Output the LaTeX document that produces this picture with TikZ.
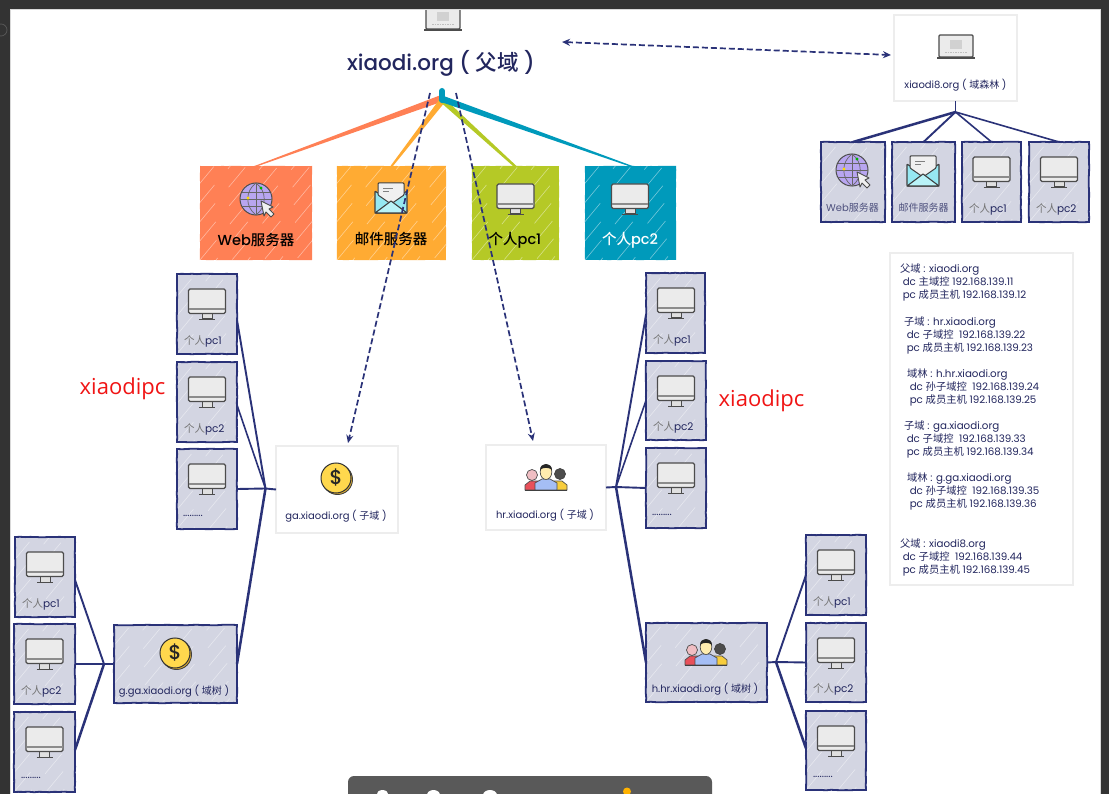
\documentclass[tikz,border=0pt]{standalone}
\usepackage{fontspec}
\setmainfont{Poppins}
\newfontfamily\cjkf{Noto Sans CJK SC}
\newfontfamily\medf{Poppins Medium}
\newfontfamily\cjkm{Noto Sans CJK SC Medium}
\newfontfamily\redf{Open Sans}
\usetikzlibrary{calc,arrows.meta,decorations.pathmorphing}
\definecolor{navy}{HTML}{2A3278}
\definecolor{boxfill}{HTML}{D3D5E2}
\definecolor{ink}{HTML}{22265E}
\definecolor{cweb}{HTML}{FF8055}
\definecolor{cmail}{HTML}{FFAB33}
\definecolor{cpa}{HTML}{B5C926}
\definecolor{cpb}{HTML}{009ABB}
\definecolor{chrome}{HTML}{333333}
\definecolor{gpurple}{HTML}{B8A6F0}
\definecolor{mailb}{HTML}{96E8F2}
\definecolor{mailc}{HTML}{B9F3F8}
\definecolor{coina}{HTML}{FFD84D}
\definecolor{coinb}{HTML}{E1B030}
\definecolor{ppink}{HTML}{F0BEC3}
\definecolor{pred}{HTML}{E8505A}
\definecolor{pyel}{HTML}{F8CD3C}
\definecolor{pblue}{HTML}{A5BEF5}
\definecolor{pskin}{HTML}{FFECAF}
\definecolor{redtxt}{HTML}{F01414}
\newcommand\Z[1]{{\cjkf #1}}
\newcommand\M[1]{{\cjkm #1}}
\newcommand\Pc[1]{{\cjkf\color{black!55}个人}#1}
\newcommand\fs[2]{\fontsize{#1}{#2}\selectfont}
\tikzset{
  x=1pt,y=-1pt,
  rough/.style={decorate,decoration={random steps,segment length=5pt,amplitude=0.25pt}},
  hatch/.style={path picture={
    \foreach \i in {-7,...,9}{
      \pgfmathsetmacro\ph{mod(abs(\i)*23,47)}
      \draw[white,opacity=.45,line width=.6,dash pattern=on 26pt off 21pt,dash phase=\ph]
        ($(path picture bounding box.south west)+(\i*16,0)$) -- ++(100,-120);
    }}},
  anybox/.style={inner sep=0,outer sep=0,rectangle},
  navybox/.style={anybox,draw=navy,line width=1.8,fill=boxfill,hatch,rough},
  plainbox/.style={anybox,draw=black!7,line width=1.4,fill=white},
  colorbox/.style={anybox,fill=#1,hatch,rough},
  wire/.style={draw=navy,line width=1.9},
  dashwire/.style={draw=navy,line width=1.7,dash pattern=on 6pt off 3pt,-{Stealth[length=8pt,width=7pt]}},
  dashboth/.style={draw=navy,line width=1.7,dash pattern=on 6pt off 3pt,{Stealth[length=8pt,width=7pt]}-{Stealth[length=8pt,width=7pt]}},
  lab/.style={inner sep=0,outer sep=0,text=ink,font=\fs{10}{12}},
  pclab/.style={lab,anchor=west,font=\fs{10.5}{12}},
  toplab/.style={inner sep=0,outer sep=0,font=\medf\fs{14.5}{16}},
  info/.style={inner sep=0,outer sep=0,anchor=north west,align=left,text=ink,font=\fs{10.3}{13}},
  redlab/.style={inner sep=0,outer sep=0,text=redtxt,font=\redf\fs{22}{24}},
}
\newcommand\bx[6]{%
  \pgfmathsetmacro\cxx{(#3+#5)/2}\pgfmathsetmacro\cyy{(#4+#6)/2}%
  \pgfmathsetmacro\ww{#5-#3}\pgfmathsetmacro\hh{#6-#4}%
  \node[#1,minimum width=\ww pt,minimum height=\hh pt] (#2) at (\cxx,\cyy) {};}
\newcommand\monitor[2]{\begin{scope}[shift={(#1,#2)}]
  \draw[fill=black!12,draw=black!70,line width=1] (-5,24) rectangle (5,30);
  \draw[draw=black!70,line width=1.2] (-8,30.5) -- (8,30.5);
  \draw[fill=black!8,draw=black!70,line width=1.1,rounded corners=1.5] (-18.5,0) rectangle (18.5,24.5);
  \draw[black!45,line width=1.4] (-18,20) -- (18,20);
\end{scope}}
\newcommand\laptop[2]{\begin{scope}[shift={(#1,#2)}]
  \draw[fill=black!8,draw=black!70,line width=1.1,rounded corners=1] (-17,0) rectangle (17,22);
  \fill[black!18] (-6,5) rectangle (6,14);
  \draw[black!25,line width=1,dash pattern=on 1.5pt off 1pt] (-11,18) -- (11,18);
  \draw[black!70,line width=2] (-19,23.5) -- (19,23.5);
\end{scope}}
\newcommand\globe[2]{\begin{scope}[shift={(#1,#2)}]
  \draw[fill=gpurple,draw=black!70,line width=1] (0,0) circle (16);
  \draw[black!60,line width=.7] (0,-16) -- (0,16) (-16,0) -- (16,0) (-14,-7) -- (14,-7) (-14,7) -- (14,7);
  \draw[black!60,line width=.7] (0,-16) .. controls (-11,-8) and (-11,8) .. (0,16);
  \draw[black!60,line width=.7] (0,-16) .. controls (11,-8) and (11,8) .. (0,16);
  \fill[yellow!80!orange] (-8,-1) circle (1.6);
  \fill[green!70!black] (5,-11) circle (1.6);
  \draw[fill=black!6,draw=black!70,line width=.9,line join=round] (5,2) -- (17,8) -- (13,10) -- (18,15) -- (15,18) -- (10,13) -- (8,17) -- cycle;
\end{scope}}
\newcommand\envelope[2]{\begin{scope}[shift={(#1,#2)}]
  \draw[fill=mailb,draw=black!75,line width=1.1,rounded corners=.8] (-16,8) -- (-16,30) -- (16,30) -- (16,8) -- (0,19) -- cycle;
  \draw[fill=black!6,draw=black!75,line width=1,rounded corners=.8] (-13,12) -- (-13,0) -- (13,0) -- (13,12) -- (0,21) -- cycle;
  \draw[black!50,line width=.9] (-8,5) -- (2,5) (-8,8.5) -- (-2,8.5);
  \draw[fill=mailc,draw=black!75,line width=1.1,line join=round] (-16,30) -- (0,18) -- (16,30) -- cycle;
\end{scope}}
\newcommand\coin[2]{\begin{scope}[shift={(#1,#2)}]
  \draw[fill=coinb,draw=black!75,line width=.9] (1.5,1.5) circle (15);
  \draw[fill=coina,draw=black!80,line width=1] (0,0) circle (15);
  \node[inner sep=0,text=black!85,font=\medf\fs{20}{20}] at (0,0) {\$};
\end{scope}}
\newcommand\people[2]{\begin{scope}[shift={(#1,#2)}]
  \draw[fill=ppink,draw=black!70,line width=.7] (-14,-15) circle (5.5);
  \draw[fill=pred,draw=black!70,line width=.7] (-21,0) -- (-21,-5) -- (-16,-9) -- (-8,-9) -- (-5,0) -- cycle;
  \draw[fill=black!70,draw=black!75,line width=.7] (14,-16) circle (5.5);
  \draw[fill=pyel,draw=black!70,line width=.7] (21,0) -- (21,-5) -- (16,-9) -- (8,-9) -- (5,0) -- cycle;
  \draw[fill=pblue,draw=black!70,line width=.7] (-11,0) -- (-11,-7) -- (-4,-11) -- (4,-11) -- (11,-7) -- (11,0) -- cycle;
  \draw[fill=pskin,draw=black!70,line width=.7] (0,-18) ellipse (5.8 and 7.5);
  \fill[black!85] (-6,-20) .. controls (-6,-28) and (6,-28) .. (6,-20) .. controls (3,-23) and (-3,-23) .. (-6,-20) -- cycle;
  \draw[black!75,line width=1.1] (-21,.3) -- (21,.3);
\end{scope}}
\begin{document}
\begin{tikzpicture}
\useasboundingbox (0,0) rectangle (1109,794);
\fill[white] (0,0) rectangle (1109,794);
\laptop{443}{7}
\node[inner sep=0,text=ink,font=\medf\fs{21.5}{24}] (title) at (441,63) {xiaodi.org (\ \M{父域}\ )};
\bx{colorbox=cweb}{web}{200}{166}{312}{260}
\bx{colorbox=cmail}{mail}{337}{166}{446}{260}
\bx{colorbox=cpa}{pa}{472}{166}{559}{260}
\bx{colorbox=cpb}{pb}{585}{166}{676}{260}
\globe{256}{199}
\envelope{391}{183}
\monitor{515.5}{184}
\monitor{630}{184}
\node[toplab,text=black] (webl) at (256,240) {Web\M{服务器}};
\node[toplab,text=black] (maill) at (391,239) {\M{邮件服务器}};
\node[toplab,text=black] (pal) at (515,240) {\M{个人}pc1};
\node[toplab,text=white] (pbl) at (630,240) {\M{个人}pc2};
\bx{plainbox}{forest}{894}{15}{1017}{101}
\laptop{956}{35}
\node[lab] (forestl) at (955.5,85) {xiaodi8.org ( \Z{域森林} )};
\bx{navybox}{fweb}{821}{142}{885}{222}
\bx{navybox}{fmail}{892}{142}{955}{222}
\bx{navybox}{fpa}{962}{142}{1021}{222}
\bx{navybox}{fpb}{1029}{142}{1089}{222}
\globe{852}{170}
\envelope{923}{156}
\monitor{991.5}{157}
\monitor{1059}{157}
\node[lab,text=ink!80!white] (fwebl) at (852.5,208) {Web\Z{服务器}};
\node[lab,text=ink!80!white] (fmaill) at (923.5,207.5) {\Z{邮件服务器}};
\node[pclab] (fpal) at (969,209) {\Pc{pc1}};
\node[pclab] (fpbl) at (1036,209) {\Pc{pc2}};
\bx{navybox}{la}{177}{274}{237}{354}
\bx{navybox}{lb}{177}{362}{237}{442}
\bx{navybox}{lc}{177}{449}{237}{529}
\monitor{207}{289}\monitor{207}{377}\monitor{207}{464}
\node[pclab] (lal) at (184,341) {\Pc{pc1}};
\node[pclab] (lbl) at (184,429) {\Pc{pc2}};
\node[pclab] (lcl) at (183,516) {.........};
\bx{plainbox}{ga}{276}{446}{398}{533}
\coin{336}{478}
\node[lab] (gal) at (336,516) {ga.xiaodi.org ( \Z{子域} )};
\bx{navybox}{gga}{114}{625}{237}{703}
\coin{175}{653}
\node[lab] (ggal) at (174,691) {g.ga.xiaodi.org ( \Z{域树} )};
\bx{navybox}{ma}{15}{537}{75}{617}
\bx{navybox}{mb}{14}{624}{75}{704}
\bx{navybox}{mc}{14}{712}{75}{792}
\monitor{45}{552}\monitor{44.5}{639}\monitor{44.5}{727}
\node[pclab] (mal) at (22,604) {\Pc{pc1}};
\node[pclab] (mbl) at (21,691) {\Pc{pc2}};
\node[pclab] (mcl) at (21,778) {.........};
\bx{navybox}{ra}{646}{273}{705}{353}
\bx{navybox}{rb}{646}{361}{706}{440}
\bx{navybox}{rc}{646}{448}{706}{528}
\monitor{676}{288}\monitor{676}{376}\monitor{676}{463}
\node[pclab] (ral) at (653,340) {\Pc{pc1}};
\node[pclab] (rbl) at (653,427) {\Pc{pc2}};
\node[pclab] (rcl) at (652,515) {.........};
\bx{plainbox}{hr}{486}{445}{606}{530}
\people{546}{490}
\node[lab] (hrl) at (545,515) {hr.xiaodi.org ( \Z{子域} )};
\bx{navybox}{hhr}{646}{623}{767}{702}
\people{706}{665}
\node[lab] (hhrl) at (705,689) {h.hr.xiaodi.org ( \Z{域树} )};
\bx{navybox}{na}{806}{535}{866}{615}
\bx{navybox}{nb}{806}{623}{866}{702}
\bx{navybox}{nc}{806}{711}{866}{790}
\monitor{836}{550}\monitor{836}{638}\monitor{836}{726}
\node[pclab] (nal) at (813,602) {\Pc{pc1}};
\node[pclab] (nbl) at (813,689) {\Pc{pc2}};
\node[pclab] (ncl) at (813,777) {.........};
\bx{plainbox}{infobox}{890}{253}{1073}{585}
\node[info] (i1) at (900,264) {\Z{父域} : xiaodi.org\\\ dc \Z{主域控} 192.168.139.11\\\ pc \Z{成员主机} 192.168.139.12};
\node[info] (i2) at (904,316.5) {\Z{子域} : hr.xiaodi.org\\\ dc \Z{子域控}\ \ 192.168.139.22\\\ pc \Z{成员主机} 192.168.139.23};
\node[info] (i3) at (907,368.5) {\Z{域林} : h.hr.xiaodi.org\\\ dc \Z{孙子域控}\ \ 192.168.139.24\\\ pc \Z{成员主机} 192.168.139.25};
\node[info] (i4) at (904,421) {\Z{子域} : ga.xiaodi.org\\\ dc \Z{子域控}\ \ 192.168.139.33\\\ pc \Z{成员主机} 192.168.139.34};
\node[info] (i5) at (907,473) {\Z{域林} : g.ga.xiaodi.org\\\ dc \Z{孙子域控}\ \ 192.168.139.35\\\ pc \Z{成员主机} 192.168.139.36};
\node[info] (i6) at (900,538.5) {\Z{父域} : xiaodi8.org\\\ dc \Z{子域控}\ \ 192.168.139.44\\\ pc \Z{成员主机} 192.168.139.45};
\node[redlab] (redl) at (122.5,389) {xiaodipc};
\node[redlab] (redr) at (761.5,401) {xiaodipc};
\coordinate (tophub) at (441,100);
\coordinate (fhub) at (955.5,112);
\coordinate (lhub) at (265.5,488.5);
\coordinate (rhub) at (616,487);
\coordinate (ghub) at (104,664);
\coordinate (hhub) at (776,662);
\fill[cweb] ($(tophub)+(0,-5)$) -- ($(tophub)+(0,2)$) -- ($(web.north)+(2,0)$) -- ($(web.north)+(-1.5,0)$) -- cycle;
\fill[cmail] ($(tophub)+(-2,0)$) -- ($(tophub)+(4,2)$) -- ($(mail.north)+(1.5,0)$) -- ($(mail.north)+(-1,0)$) -- cycle;
\fill[cpa] ($(tophub)+(-3,0)$) -- ($(tophub)+(3,-2)$) -- ($(pa.north)+(1,0)$) -- ($(pa.north)+(-2.5,0)$) -- cycle;
\fill[cpb] ($(tophub)+(0,-5)$) -- ($(tophub)+(0,2)$) -- ($(pb.north)+(-2,0)$) -- ($(pb.north)+(2,0)$) -- cycle;
\draw[cpb,line width=6,line cap=round] ($(tophub)+(1,-9)$) -- ($(tophub)+(1,0)$);
\coordinate (dl) at (430,93);
\coordinate (dr) at (456,93);
\draw[dashwire] (dl) -- ($(ga.north)+(11,-3)$);
\draw[dashwire] (dr) -- ($(hr.north)+(-13,-4)$);
\coordinate (dlink) at (562,42);
\draw[dashboth] (dlink) -- ($(forest.west)+(-3,-3)$);
\draw[wire] (forest.south) -- (fhub);
\draw[wire,line width=2.5] (fhub) -- (fweb.north);
\draw[wire] (fhub) -- (fmail.north);
\draw[wire,line width=1.6] (fhub) -- (fpa.north);
\draw[wire,line width=1.6] (fhub) -- (fpb.north);
\draw[wire] ($(la.east)+(0,6)$) -- (lhub);
\draw[wire,line width=1.6] ($(lb.east)+(0,3)$) -- (lhub);
\draw[wire] (lc.east) -- (lhub) -- (ga.west);
\draw[wire,line width=2.5] (gga.east) -- (lhub);
\draw[wire] ($(ma.east)+(0,3)$) -- (ghub);
\draw[wire] (mb.east) -- (ghub) -- (gga.west);
\draw[wire,line width=2.5] ($(mc.east)+(0,-2)$) -- (ghub);
\draw[wire] ($(ra.west)+(0,2)$) -- (rhub);
\draw[wire,line width=1.6] (rb.west) -- (rhub);
\draw[wire] (rc.west) -- (rhub) -- (hr.east);
\draw[wire,line width=2.5] (hhr.west) -- (rhub);
\draw[wire] (na.west) -- (hhub);
\draw[wire] (nb.west) -- (hhub) -- (hhr.east);
\draw[wire,line width=2.5] ($(nc.west)+(0,-2)$) -- (hhub);
\fill[chrome] (0,0) rectangle (1109,9.5);
\fill[chrome] (0,0) rectangle (11,794);
\fill[chrome] (1101,0) rectangle (1109,794);
\draw[black!15,line width=.6] (10.5,794) -- (10.5,9.7) -- (1100.5,9.7) -- (1100.5,794);
\draw[black!65,line width=.7] (1,30) circle (6);
\begin{scope}
  \clip (340,770) rectangle (720,794);
  \fill[black!65,rounded corners=6] (348,776) rectangle (712,810);
  \fill[white] (382.5,795) ellipse (6 and 5);
  \fill[white] (433.5,795) ellipse (6.5 and 5);
  \fill[white] (490,795) ellipse (7 and 5);
  \fill[orange!60!yellow] (627,791.5) circle (4);
\end{scope}
\end{tikzpicture}
\end{document}
